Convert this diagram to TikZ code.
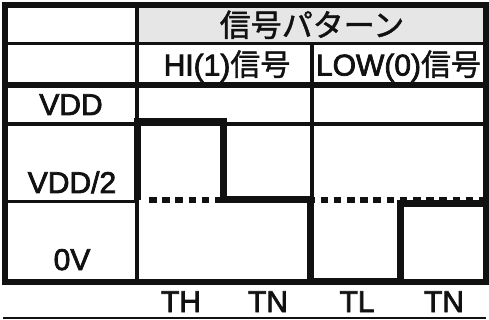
\documentclass[tikz,border=0pt]{standalone}
\usepackage{fontspec}
\setmainfont{Liberation Sans}
\newfontfamily\lat{Liberation Sans}[FakeBold=2.5]
\newfontfamily\jp{Noto Sans CJK JP}[FakeBold=1.5]
\definecolor{hdrgray}{HTML}{E6E6E6}
\definecolor{ink}{HTML}{111111}
\begin{document}
\begin{tikzpicture}[x=1pt,y=-1pt,
  every node/.style={inner sep=0pt, outer sep=0pt},
  lbl/.style={font=\fontsize{30}{30}\selectfont\lat, anchor=base, text=ink},
  thinrule/.style={draw=ink, line width=3pt},
  midrule/.style={draw=ink, line width=3.5pt},
  thickrule/.style={draw=ink, line width=6pt},
  sig/.style={draw=ink, line width=7pt, miter limit=10},
  halfref/.style={draw=ink, line width=6pt, dash pattern=on 7.5pt off 5.7pt}]
\useasboundingbox (0,0) rectangle (489,320);
% header fill
\fill[hdrgray] (137,5) rectangle (486,43.5);
% grid
\draw[thinrule] (5,43.5) -- (486,43.5);
\draw[thickrule] (5,85) -- (486,85);
\draw[midrule] (5,124) -- (486,124);
\draw[thinrule] (5,202) -- (137,202);
\draw[midrule] (137,5) -- (137,282);
\draw[midrule] (312,43.5) -- (312,282);
% VDD/2 reference line
\draw[halfref] (149,200) -- (486,200);
% signal
\draw[sig] (137,200) -- (137,122) -- (223,122) -- (223,200) -- (310,200)
  -- (310,281) -- (400,281) -- (400,204) -- (486,204);
% outer border
\draw[thickrule] (5,5) rectangle (486,281.5);
% bottom rule
\draw[draw=ink, line width=1.5pt] (3,318) -- (486,318);
% texts
\node[lbl, font=\fontsize{31}{31}\selectfont\jp] (title) at (312,36.5) {信号パターン};
\node[lbl] (hi) at (227,75.5) {HI(1){\jp 信号}};
\node[lbl, anchor=base west] (low) at (316,75.5) {LOW(0){\jp 信号}};
\node[lbl] (vdd) at (71,115) {VDD};
\node[lbl] (vddh) at (72,193) {VDD/2};
\node[lbl] (zero) at (72,270) {0V};
\node[lbl] (th) at (181,312) {TH};
\node[lbl] (tn1) at (268,312) {TN};
\node[lbl] (tl) at (357,312) {TL};
\node[lbl] (tn2) at (444,312) {TN};
\end{tikzpicture}
\end{document}
